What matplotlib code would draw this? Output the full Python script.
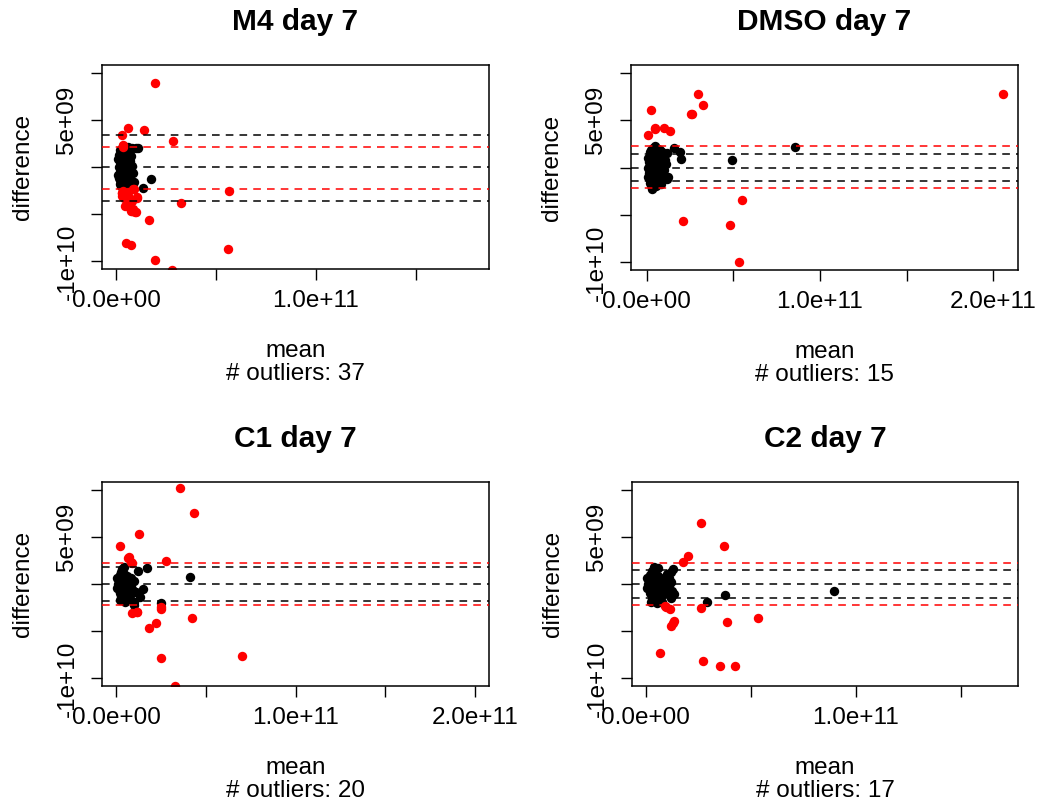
import numpy as np
import matplotlib.pyplot as plt

plt.rcParams['font.family'] = ['Liberation Sans', 'DejaVu Sans']

# mean values are stored in units of 1e10, differences in units of 1e9
XU = 1e10
YU = 1e9

titles = ["M4 day 7", "DMSO day 7", "C1 day 7", "C2 day 7"]
n_outliers = [37, 15, 20, 17]

# ---- M4 day 7 ----
m4_in_x = [0.15, 0.2, 0.2, 0.25, 0.25, 0.3, 0.3, 0.3, 0.35, 0.4, 0.4, 0.45, 0.45, 0.5, 0.5, 0.5,
           0.55, 0.6, 0.6, 0.65, 0.7, 0.7, 0.3, 0.35, 0.6, 0.8, 1.0, 1.12, 0.75, 0.87, 0.8, 0.4,
           0.25, 0.2, 0.12, 0.12, 0.18, 0.65, 0.9, 1.73, 1.37, 0.55, 0.45, 0.35, 0.28, 0.5, 0.6,
           0.2, 0.25, 0.25, 0.3, 0.3, 0.35, 0.35, 0.4, 0.4, 0.45, 0.45, 0.5, 0.5, 0.55, 0.55,
           0.4, 0.45, 0.6, 0.7, 0.2, 0.15, 0.15, 0.65, 0.55, 0.35, 0.25, 0.3]
m4_in_y = [0.0, 0.5, -0.5, 1.0, -1.0, 1.5, -1.5, 0.2, -0.3, 0.8, -0.8, 1.2, -1.2, 0.0, 1.8, -1.8,
           0.4, -0.4, 1.4, -1.0, 0.6, -2.0, 2.0, 2.2, 2.1, 2.0, 2.03, 2.03, 1.2, -0.61, 0.1, -2.2,
           -2.0, 1.8, 0.8, -0.8, -1.4, 0.2, -1.6, -1.25, -2.2, -2.3, -1.6, 0.9, -0.9, -0.6, 0.9,
           0.0, 0.4, -0.4, 0.8, -0.8, 1.3, -1.3, 0.3, -0.3, 0.6, -0.6, 1.0, -1.0, 1.5, -1.4,
           1.9, -2.0, -1.8, 1.8, -1.8, 1.3, -1.2, -0.2, 0.0, 0.0, 1.6, -2.1]
m4_out_x = [1.95, 0.58, 1.42, 0.28, 2.87, 0.37, 0.35, 5.65, 3.23, 1.65, 0.48, 0.75, 5.62, 1.97,
            2.78, 0.28, 0.9, 1.07, 0.67, 0.45, 0.67, 0.73, 0.95, 0.32, 0.53, 0.78, 0.37, 0.83,
            1.07, 0.32, 0.62, 0.53, 0.78, 1.0, 0.6, 0.85, 0.4]
m4_out_y = [8.91, 4.18, 3.89, 3.41, 2.73, 2.31, 2.1, -2.52, -3.76, -5.59, -8.02, -8.31, -8.73,
            -9.86, -10.9, -2.73, -2.38, -3.16, -3.44, -4.15, -4.07, -4.68, -4.78, -3.09, -2.91,
            -3.62, -2.56, -2.38, -3.23, -2.8, -3.09, -4.15, -4.68, -4.78, -2.6, -4.4, -3.3]
m4_black = [-0.05, 3.37, -3.62]
m4_red = [2.10, -2.35]

# ---- DMSO day 7 ----
dmso_in_x = [0.1, 0.15, 0.15, 0.2, 0.2, 0.25, 0.25, 0.3, 0.35, 0.4, 0.4, 0.45, 0.45, 0.5, 0.55,
             0.55, 0.6, 0.65, 0.7, 0.75, 0.8, 0.85, 0.9, 1.0, 1.05, 1.15, 1.25, 0.77, 1.15, 1.58,
             1.92, 1.96, 4.94, 8.58, 0.29, 0.35, 0.1, 0.1, 0.6, 0.95, 0.3, 0.5, 1.1, 0.2, 0.65,
             0.2, 0.25, 0.25, 0.3, 0.3, 0.35, 0.35, 0.4, 0.45, 0.5, 0.5, 0.55, 0.6, 0.65, 0.7,
             0.75, 0.8, 0.85, 0.9, 0.4, 0.4, 0.2, 0.2, 1.0, 0.7]
dmso_in_y = [0.0, 0.6, -0.6, 1.2, -1.2, 1.8, -1.8, 0.3, -0.3, 0.9, -0.9, 1.5, -1.5, 0.0, 2.0,
             -2.0, 0.5, -0.5, 1.2, -1.1, 0.2, -1.7, 1.6, -0.3, 0.8, -1.2, -0.95, 1.87, 1.52, 2.05,
             1.63, 0.92, 0.74, 2.12, -2.18, 2.1, 1.0, -1.0, -1.4, 0.0, -2.3, 2.3, 0.4, 0.2, 1.9,
             0.0, 0.5, -0.5, 1.0, -1.0, 1.5, -1.5, 0.2, -0.2, 0.7, -0.7, 1.2, -1.2, 0.0, 0.6,
             -0.6, 1.0, -0.8, 0.4, 1.9, -1.9, -1.6, 1.6, -1.0, -1.6]
dmso_out_x = [20.58, 2.98, 3.27, 0.25, 2.57, 0.46, 0.98, 1.36, 0.09, 5.5, 2.08, 4.79, 5.33, 0.5, 2.6]
dmso_out_y = [7.77, 7.72, 6.63, 6.1, 5.65, 4.13, 4.2, 3.81, 3.39, -3.39, -5.64, -6.1, -10.0, 4.05, 5.6]
dmso_black = [0.0, 1.46, -1.44]
dmso_red = [2.26, -2.19]

# ---- C1 day 7 ----
c1_in_x = [0.1, 0.15, 0.15, 0.2, 0.2, 0.25, 0.3, 0.3, 0.3, 0.35, 0.4, 0.4, 0.45, 0.45, 0.5, 0.55,
           0.6, 0.6, 0.65, 0.7, 0.75, 0.8, 0.85, 0.9, 1.0, 0.46, 1.21, 1.73, 4.12, 1.5, 1.34, 0.99,
           0.99, 2.51, 0.25, 0.5, 0.35, 1.1, 0.05, 0.05,
           0.2, 0.2, 0.25, 0.25, 0.3, 0.35, 0.35, 0.4, 0.45, 0.5, 0.5, 0.55, 0.6, 0.65, 0.7,
           0.75, 0.8, 0.85, 0.9, 0.15, 0.4, 0.3]
c1_in_y = [0.0, 0.5, -0.5, 1.0, -1.0, 0.2, -0.2, 1.3, -1.3, 0.7, -0.7, 0.0, 1.1, -1.5, 0.4, -0.4,
           0.9, -1.0, 0.1, -0.6, 0.5, -1.2, 0.0, -0.5, 0.3, 1.83, 1.41, 1.7, 0.7, -0.53, -1.35,
           -1.88, -2.23, -2.05, -1.7, -1.9, 1.6, -0.8, 0.6, -0.4,
           0.3, -0.3, 0.8, -0.8, 0.0, -1.0, 0.4, 1.0, -0.3, -1.1, 0.9, 0.2, -0.5, 0.6, -1.3,
           0.0, -0.7, 0.6, -1.0, 0.0, -1.5, -1.6]
c1_out_x = [3.55, 4.33, 1.3, 0.22, 0.69, 0.84, 2.8, 2.51, 0.91, 1.19, 2.21, 1.84, 4.23, 2.52,
            7.04, 3.29, 0.75, 1.15, 2.5, 0.9]
c1_out_y = [10.17, 7.52, 5.3, 3.99, 2.72, 2.36, 2.4, -2.48, -3.07, -2.94, -4.1, -4.66, -3.65,
            -7.84, -7.67, -10.85, 2.9, -3.0, -2.6, 2.2]
c1_black = [0.0, 1.83, -1.84]
c1_red = [2.23, -2.27]

# ---- C2 day 7 ----
c2_in_x = [0.1, 0.15, 0.15, 0.2, 0.2, 0.25, 0.3, 0.3, 0.3, 0.35, 0.4, 0.4, 0.45, 0.45, 0.5, 0.55,
           0.6, 0.6, 0.65, 0.7, 0.75, 0.8, 0.85, 0.9, 1.0, 0.41, 1.29, 1.0, 1.24, 1.36, 1.19, 0.52,
           3.78, 2.93, 8.97, 0.25, 0.55, 0.6, 1.1, 0.05, 0.05, 0.8, 1.2,
           0.2, 0.2, 0.25, 0.25, 0.3, 0.35, 0.35, 0.4, 0.45, 0.5, 0.5, 0.55, 0.6, 0.65, 0.7,
           0.75, 0.8, 0.85, 0.9, 0.15, 0.4, 0.3, 1.1, 1.2]
c2_in_y = [0.0, 0.5, -0.5, 1.0, -1.0, 0.2, -0.2, 1.4, -1.4, 0.7, -0.7, 0.0, 1.1, -1.6, 0.4, -0.4,
           0.9, -1.0, 0.1, -0.6, 0.5, -1.2, 0.0, -0.5, 0.3, 1.76, 1.55, 1.06, -0.71, -1.06, -1.53,
           -1.77, -1.13, -1.91, -0.78, -1.9, -2.0, 1.7, 0.6, 0.6, -0.4, -1.9, 1.3,
           0.3, -0.3, 0.8, -0.8, 0.0, -1.0, 0.4, 1.0, -0.3, -1.1, 0.9, 0.2, -0.5, 0.6, -1.3,
           0.0, -0.7, 0.6, -1.0, 0.0, -1.5, -1.6, -0.2, 0.2]
c2_out_x = [2.62, 3.74, 2.0, 1.79, 0.92, 1.16, 2.62, 1.35, 1.22, 3.89, 5.33, 0.68, 2.74, 3.55,
            4.24, 0.95, 1.3]
c2_out_y = [6.46, 4.03, 2.97, 2.33, -2.3, -2.65, -2.59, -3.96, -4.49, -4.0, -3.65, -7.31, -8.13,
            -8.69, -8.73, -2.4, -4.1]
c2_black = [0.0, 1.48, -1.48]
c2_red = [2.18, -2.27]

in_x = [m4_in_x, dmso_in_x, c1_in_x, c2_in_x]
in_y = [m4_in_y, dmso_in_y, c1_in_y, c2_in_y]
out_x = [m4_out_x, dmso_out_x, c1_out_x, c2_out_x]
out_y = [m4_out_y, dmso_out_y, c1_out_y, c2_out_y]
black_lines = [m4_black, dmso_black, c1_black, c2_black]
red_lines = [m4_red, dmso_red, c1_red, c2_red]

xlims = [(-0.7, 18.65), (-0.9, 21.42), (-0.78, 20.78), (-0.65, 17.73)]
ylim = (-10.8, 10.8)

W, H = 1042, 806
# plot regions in pixels: left, top, right, bottom
boxes = [(102, 65, 489, 269), (631, 65, 1018, 270), (102, 482, 489, 686), (632, 482, 1018, 686)]

fs = 17.5
fig = plt.figure(figsize=(W / 100, H / 100), dpi=100)

for i in range(4):
    l, t, r, b = boxes[i]
    ax = fig.add_axes([l / W, 1 - b / H, (r - l) / W, (b - t) / H])

    ax.scatter(np.array(in_x[i]) * XU, np.array(in_y[i]) * YU, s=46, c='black',
               linewidths=0, zorder=2)
    ax.scatter(np.array(out_x[i]) * XU, np.array(out_y[i]) * YU, s=46, c='red',
               linewidths=0, zorder=2)
    for v in black_lines[i]:
        ax.axhline(v * YU, color='black', lw=1.1, ls=(0, (5, 4)), zorder=3)
    for v in red_lines[i]:
        ax.axhline(v * YU, color='red', lw=1.1, ls=(0, (5, 4)), zorder=3)

    ax.set_xlim(xlims[i][0] * XU, xlims[i][1] * XU)
    ax.set_ylim(ylim[0] * YU, ylim[1] * YU)

    xt = [v for v in [0, 5, 10, 15, 20] if v <= xlims[i][1]]
    xl = []
    for v in xt:
        if v == 0:
            xl.append("0.0e+00")
        elif v == 10:
            xl.append("1.0e+11")
        elif v == 20:
            xl.append("2.0e+11")
        else:
            xl.append("")
    ax.set_xticks(np.array(xt) * XU)
    ax.set_xticklabels(xl)
    ax.set_yticks(np.array([-10, -5, 0, 5, 10]) * YU)
    ax.set_yticklabels(["-1e+10", "", "", "5e+09", ""], rotation=90, va='center')

    ax.tick_params(axis='both', length=8, width=1.0, labelsize=fs, color='black')
    ax.tick_params(axis='x', pad=7)
    ax.tick_params(axis='y', pad=9)
    for s in ax.spines.values():
        s.set_linewidth(1.1)

    ax.annotate(titles[i], xy=(0.5, 1), xycoords='axes fraction', xytext=(0, 35),
                textcoords='offset pixels', ha='center', va='baseline',
                fontsize=21.5, fontweight='bold')
    ax.annotate("difference", xy=(0, 0.5), xycoords='axes fraction', xytext=(-79, 0),
                textcoords='offset pixels', ha='center', va='center', rotation=90, fontsize=fs)
    ax.annotate("mean", xy=(0.5, 0), xycoords='axes fraction', xytext=(0, -88),
                textcoords='offset pixels', ha='center', va='baseline', fontsize=fs)
    ax.annotate("# outliers: %d" % n_outliers[i], xy=(0.5, 0), xycoords='axes fraction',
                xytext=(0, -111), textcoords='offset pixels', ha='center', va='baseline',
                fontsize=fs)

fig.savefig("out.png", dpi=100)
